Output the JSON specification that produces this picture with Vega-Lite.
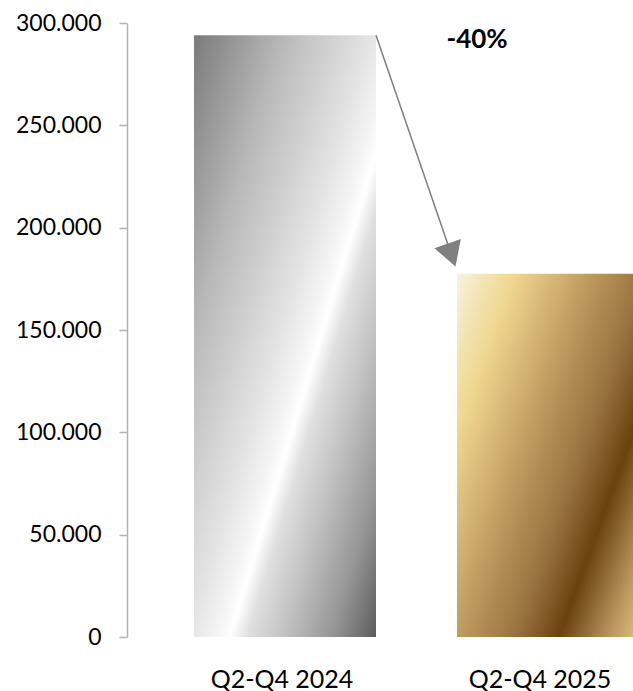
{
  "$schema": "https://vega.github.io/schema/vega-lite/v6.json",
  "width": 506,
  "height": 614,
  "autosize": "none",
  "padding": {"left": 127, "top": 23, "right": 0, "bottom": 54},
  "background": "white",
  "config": {"view": {"stroke": null}, "font": "Lato"},
  "datasets": {
    "sales": [
      {"period": "Q2-Q4 2024", "value": 294000},
      {"period": "Q2-Q4 2025", "value": 177500}
    ],
    "change": [
      {"from": "Q2-Q4 2024", "to": "Q2-Q4 2025", "start": 294000, "end": 186600, "label": "-40%", "labelY": 288000}
    ]
  },
  "layer": [
    {
      "data": {"name": "sales"},
      "transform": [{"filter": "datum.period == 'Q2-Q4 2024'"}],
      "mark": {
        "type": "bar",
        "clip": true,
        "color": {
          "gradient": "linear",
          "x1": 0, "y1": 0, "x2": 1, "y2": 1,
          "stops": [
            {"offset": 0, "color": "#7b7b7b"},
            {"offset": 0.25, "color": "#b9b9b9"},
            {"offset": 0.48, "color": "#e3e3e3"},
            {"offset": 0.56, "color": "#f4f4f4"},
            {"offset": 0.6, "color": "#ffffff"},
            {"offset": 0.645, "color": "#e0e0e0"},
            {"offset": 0.75, "color": "#c0c0c0"},
            {"offset": 0.88, "color": "#959595"},
            {"offset": 1, "color": "#5c5c5c"}
          ]
        }
      },
      "encoding": {
        "x": {
          "field": "period",
          "type": "ordinal",
          "title": null,
          "scale": {"type": "band", "range": [0, 579], "paddingInner": 0.308, "paddingOuter": 0.2548},
          "axis": {
            "domain": false,
            "ticks": false,
            "tickSize": 0,
            "labelAngle": 0,
            "labelFont": "Lato",
            "labelFontSize": 25,
            "labelColor": "#000000",
            "labelBaseline": "alphabetic",
            "labelPadding": 50,
            "labelOffset": {"condition": {"test": "datum.value === 'Q2-Q4 2025'", "value": -8}, "value": -3}
          }
        },
        "y": {
          "field": "value",
          "type": "quantitative",
          "title": null,
          "scale": {"domain": [0, 300000], "nice": false},
          "axis": {
            "values": [0, 50000, 100000, 150000, 200000, 250000, 300000],
            "grid": false,
            "domainColor": "#b3b3b3",
            "domainWidth": 1.5,
            "tickColor": "#b3b3b3",
            "tickWidth": 1.5,
            "tickSize": 8,
            "labelPadding": 18,
            "labelFont": "Lato",
            "labelFontSize": 23,
            "labelColor": "#000000",
            "labelExpr": "replace(format(datum.value, ','), ',', '.')"
          }
        }
      }
    },
    {
      "data": {"name": "sales"},
      "transform": [{"filter": "datum.period == 'Q2-Q4 2025'"}],
      "mark": {
        "type": "bar",
        "clip": true,
        "color": {
          "gradient": "linear",
          "x1": 0, "y1": 0, "x2": 1.133, "y2": 0.816,
          "stops": [
            {"offset": 0, "color": "#f8f4e2"},
            {"offset": 0.1, "color": "#f3e3b2"},
            {"offset": 0.185, "color": "#efd78f"},
            {"offset": 0.3, "color": "#d9b978"},
            {"offset": 0.45, "color": "#b8955a"},
            {"offset": 0.6, "color": "#9a7440"},
            {"offset": 0.69, "color": "#7d5522"},
            {"offset": 0.745, "color": "#6a420c"},
            {"offset": 0.81, "color": "#8a6430"},
            {"offset": 0.9, "color": "#b8945c"},
            {"offset": 1, "color": "#e0c280"}
          ]
        }
      },
      "encoding": {
        "x": {"field": "period", "type": "ordinal", "title": null},
        "y": {"field": "value", "type": "quantitative", "title": null}
      }
    },
    {
      "data": {"name": "change"},
      "mark": {"type": "rule", "stroke": "#808080", "strokeWidth": 1.5},
      "encoding": {
        "x": {"field": "from", "type": "ordinal", "bandPosition": 1, "title": null},
        "x2": {"field": "to", "bandPosition": -0.03},
        "y": {"field": "start", "type": "quantitative", "title": null},
        "y2": {"field": "end"}
      }
    },
    {
      "data": {"name": "change"},
      "mark": {"type": "point", "shape": "triangle-up", "filled": true, "size": 780, "angle": 161, "color": "#808080", "opacity": 1},
      "encoding": {
        "x": {"field": "to", "type": "ordinal", "bandPosition": -0.03, "title": null},
        "y": {"field": "end", "type": "quantitative", "title": null}
      }
    },
    {
      "data": {"name": "change"},
      "mark": {"type": "text", "font": "Lato", "fontSize": 26, "fontWeight": "bold", "baseline": "alphabetic", "align": "center", "color": "#000000"},
      "encoding": {
        "x": {"field": "to", "type": "ordinal", "bandPosition": 0.11, "title": null},
        "y": {"field": "labelY", "type": "quantitative", "title": null},
        "text": {"field": "label"}
      }
    }
  ]
}
